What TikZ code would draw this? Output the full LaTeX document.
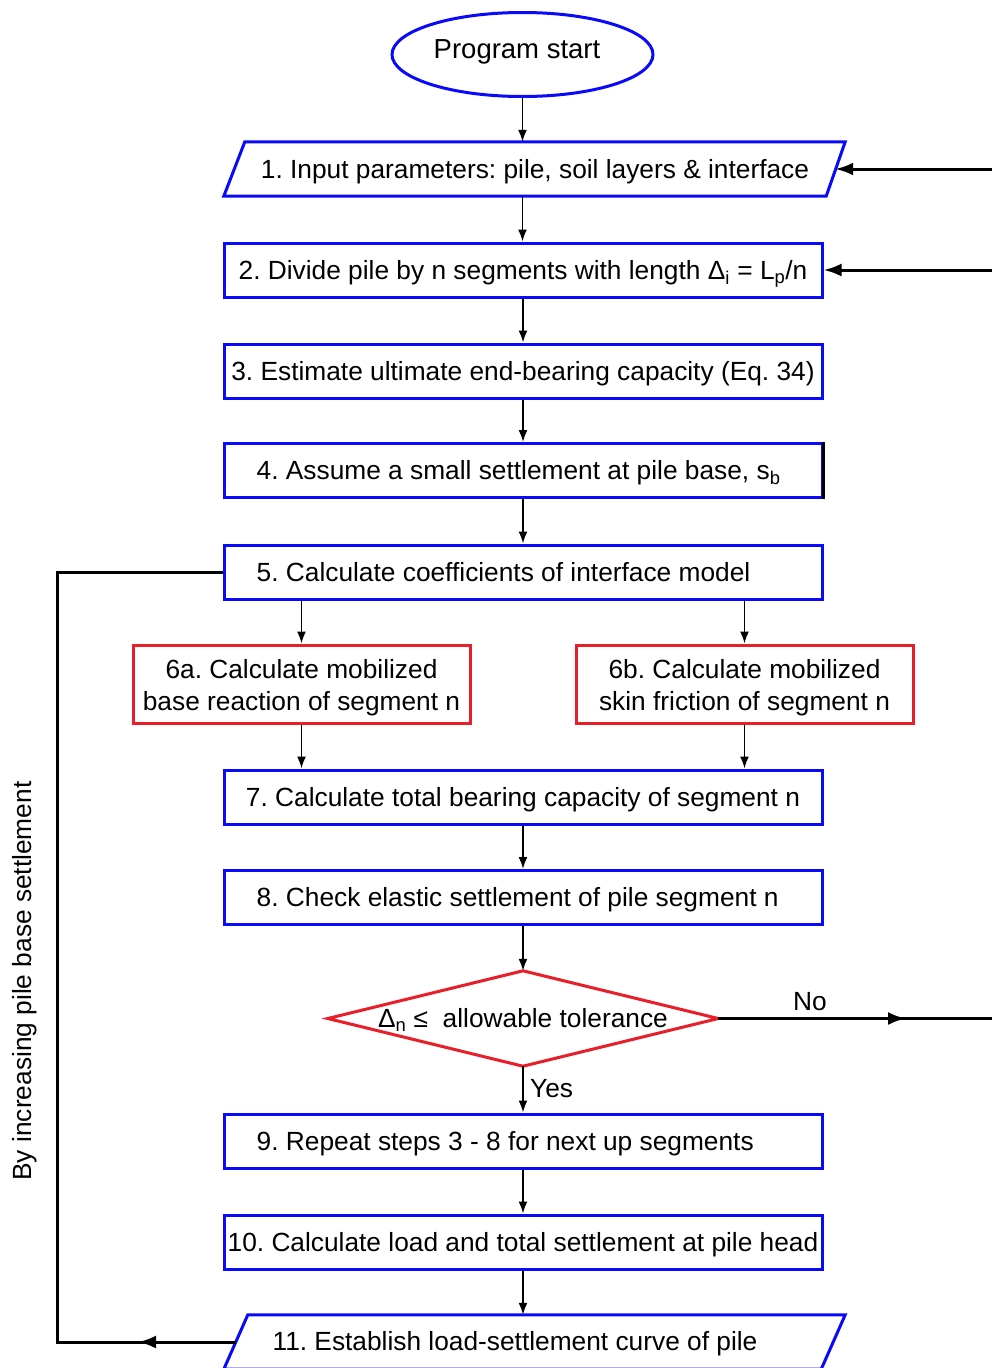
\documentclass[tikz,border=0pt]{standalone}
\usepackage{fontspec}
\setmainfont{Liberation Sans}
\usetikzlibrary{arrows.meta,calc,shapes.geometric}
\definecolor{fblue}{RGB}{10,10,250}
\definecolor{fred}{RGB}{232,30,40}
\newcommand\fsz{\fontsize{26.3}{32}\selectfont}
\frenchspacing
\begin{document}
\begin{tikzpicture}[x=1pt,y=-1pt,
  box/.style={draw=fblue, line width=3pt, minimum width=598pt, minimum height=54pt, inner sep=0pt, font=\fsz, text height=18.8pt, text depth=0pt},
  redbox/.style={draw=fred, line width=3pt, minimum width=337pt, minimum height=78pt, inner sep=0pt},
  redtext/.style={font=\fsz, align=center, inner sep=0pt},
  conn/.style={draw=black, line width=1.8pt, -{Latex[length=12pt,width=9pt]}},
  side/.style={draw=black, line width=3pt},
  sidearrow/.style={side, -{Latex[length=18pt,width=13pt]}},
  lbl/.style={font=\fsz, inner sep=0pt, text height=18.8pt, text depth=0pt}]
\useasboundingbox (0,0) rectangle (991,1368);
\fill[white] (0,0) rectangle (991,1368);

% start
\node[draw=fblue, line width=3pt, ellipse, minimum width=261pt, minimum height=84pt, inner sep=0pt] (st) at (522.5,54.5) {};
\node[lbl, font=\fontsize{27.5}{32}\selectfont, text height=19.8pt] (tst) at (517,48.5) {Program start};

% 1 parallelogram
\node[minimum width=621pt, minimum height=54pt, inner sep=0pt] (p1) at (534.5,169) {};
\node[lbl] (t1) at (535,169) {1. Input parameters: pile, soil layers \& interface};
\draw[fblue, line width=3pt, line join=miter] ($(p1.north west)+(21,0)$) -- (p1.north east) -- ($(p1.south east)+(-19,0)$) -- (p1.south west) -- cycle;

\node[box] (b2) at (523,270) {2. Divide pile by n segments with length Δ\textsubscript{i} = L\textsubscript{p}/n};
\node[box] (b3) at (523,371) {3. Estimate ultimate end-bearing capacity (Eq. 34)};
\node[box] (b4) at (523,470.5) {};
\node[lbl, anchor=west] (t4) at ($(b4.west)+(34,0)$) {4. Assume a small settlement at pile base, s\textsubscript{b}};
\draw[black, line width=2.5pt] (b4.north east) -- (b4.south east);
\node[box] (b5) at (523,572) {};
\node[lbl, anchor=west] (t5) at ($(b5.west)+(34,0)$) {5. Calculate coefficients of interface model};
\node[redbox] (b6a) at (301.5,684) {};
\node[redtext] (t6a) at ($(b6a)+(0,4)$) {6a. Calculate mobilized\\base reaction of segment n};
\node[redbox] (b6b) at (744.5,684) {};
\node[redtext] (t6b) at ($(b6b)+(0,4)$) {6b. Calculate mobilized\\skin friction of segment n};
\node[box] (b7) at (523,797) {7. Calculate total bearing capacity of segment n};
\node[box] (b8) at (523,897.5) {};
\node[lbl, anchor=west] (t8) at ($(b8.west)+(34,0)$) {8. Check elastic settlement of pile segment n};

% diamond
\node[minimum width=390pt, minimum height=95pt, inner sep=0pt] (d) at (523,1018.5) {};
\draw[fred, line width=3pt, line join=miter] (d.west) -- (d.north) -- (d.east) -- (d.south) -- cycle;
\node[lbl] (dt) at (523,1018) {Δ\textsubscript{n} ≤ \ allowable tolerance};

\node[box] (b9) at (523,1141) {};
\node[lbl, anchor=west] (t9) at ($(b9.west)+(34,0)$) {9. Repeat steps 3 - 8 for next up segments};
\node[box] (b10) at (523,1242) {10. Calculate load and total settlement at pile head};

% 11 parallelogram
\node[minimum width=621pt, minimum height=54pt, inner sep=0pt] (p11) at (534.5,1342) {};
\node[lbl] (t11) at (515,1341) {11. Establish load-settlement curve of pile};
\draw[fblue, line width=3pt, line join=miter] ($(p11.north west)+(24,0)$) -- (p11.north east) -- ($(p11.south east)+(-24,0)$) -- (p11.south west) -- cycle;

% vertical connectors
\draw[conn] (st.south) -- (st.south |- p1.north);
\draw[conn] (st.south |- p1.south) -- (st.south |- b2.north);
\draw[conn] (b2.south) -- (b3.north);
\draw[conn] (b3.south) -- (b4.north);
\draw[conn] (b4.south) -- (b5.north);
\draw[conn] (b5.south -| b6a.north) -- (b6a.north);
\draw[conn] (b5.south -| b6b.north) -- (b6b.north);
\draw[conn] (b6a.south) -- (b7.north -| b6a.south);
\draw[conn] (b6b.south) -- (b7.north -| b6b.south);
\draw[conn] (b7.south) -- (b8.north);
\draw[conn] (b8.south) -- (d.north);
\draw[conn] (d.south) -- (b9.north);
\draw[conn] (b9.south) -- (b10.north);
\draw[conn] (b10.south) -- (b10.south |- p11.north);
\node[lbl, anchor=west] (yes) at (530,1088) {Yes};

% right side feedback
\coordinate (r1) at (1000,169);
\coordinate (r2) at (1000,270);
\coordinate (r3) at (1000,1018.5);
\draw[sidearrow] (r1) -- ($(p1.east)+(-10,0)$);
\draw[sidearrow] (r2) -- (b2.east);
\coordinate (nomid) at (906,1018.5);
\draw[side] (d.east) -- (r3);
\draw[sidearrow] (d.east) -- (nomid);
\node[lbl] (no) at (810,1001) {No};

% left loop
\coordinate (lc) at (57,1342);
\coordinate (lmid) at (138,1342);
\draw[side, line join=miter] ($(p11.west)+(12,0)$) -- (lc) |- (b5.west);
\draw[sidearrow] ($(p11.west)+(12,0)$) -- (lmid);
\node[lbl, rotate=90] (loop) at (22,981) {By increasing pile base settlement};
\end{tikzpicture}
\end{document}
